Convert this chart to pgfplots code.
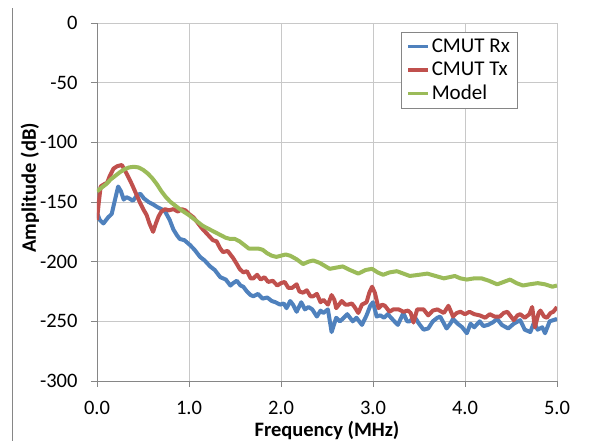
\documentclass[border=0pt]{standalone}
\usepackage{fontspec}
\setmainfont{Carlito}
\usepackage{pgfplots}
\pgfplotsset{compat=1.18}
\definecolor{rxblue}{HTML}{4F81BD}
\definecolor{txred}{HTML}{C0504D}
\definecolor{modelgreen}{HTML}{9BBB59}
\definecolor{gridgray}{HTML}{C8C8C8}
\definecolor{axisgray}{HTML}{868686}

\begin{document}
\begin{tikzpicture}[x=1pt,y=1pt]
\useasboundingbox (-97,-62) rectangle (514,381);
\draw[axisgray, line width=0.8pt] (-85,-60) -- (-85,373);
\begin{axis}[
  at={(0,0)}, anchor=south west,
  width=460pt, height=358pt, scale only axis,
  xmin=0, xmax=5, ymin=-300, ymax=0,
  xtick={0,1,...,5}, ytick={-300,-250,...,0},
  axis x line=bottom, axis y line=left,
  axis line style={axisgray, line width=0.8pt, -},
  grid=major, major grid style={gridgray, line width=0.8pt},
  tick align=outside, major tick length=6pt,
  tick style={axisgray, line width=0.8pt},
  font=\fontsize{20.5}{24}\selectfont,
  /pgf/number format/assume math mode=true,
  xticklabel style={yshift=-11pt, /pgf/number format/.cd, fixed, fixed zerofill, precision=1},
  yticklabel style={xshift=-10pt, /pgf/number format/fixed},
  xlabel={\textbf{Frequency (MHz)}},
  ylabel={\textbf{Amplitude (dB)}},
  xlabel style={at={(axis description cs:0.5,-0.137)}, anchor=center},
  ylabel style={at={(axis description cs:-0.146,0.54)}, anchor=center, rotate=0},
  legend style={at={(axis description cs:0.661,0.975)}, anchor=north west,
    draw=axisgray, fill=white, font=\fontsize{21}{25}\selectfont,
    inner xsep=5pt, inner ysep=5pt, row sep=4pt},
  legend cell align=left,
  legend image code/.code={\draw[#1, line width=3.5pt] (0pt,0pt) -- (20pt,0pt);},
  every axis plot/.append style={line width=4pt, line join=round, mark=none},
]
\addplot[rxblue] coordinates {
(0.00,-159) (0.03,-165) (0.07,-168) (0.12,-163) (0.16,-160) (0.19,-150)
(0.23,-137) (0.26,-141) (0.29,-148) (0.32,-146) (0.35,-147) (0.39,-149)
(0.43,-145) (0.47,-143) (0.51,-147) (0.56,-150) (0.61,-152) (0.65,-154)
(0.70,-156) (0.74,-158) (0.79,-165) (0.83,-173) (0.87,-178) (0.90,-181)
(0.95,-182) (1.01,-186) (1.06,-190) (1.12,-196) (1.17,-199) (1.23,-204)
(1.28,-207) (1.34,-213) (1.40,-215) (1.45,-220) (1.48,-218) (1.52,-216)
(1.56,-220) (1.59,-221) (1.63,-225) (1.67,-228) (1.70,-229) (1.75,-227)
(1.80,-231) (1.85,-230) (1.90,-233) (1.94,-234) (1.99,-236) (2.03,-235)
(2.06,-239) (2.10,-233) (2.13,-236) (2.17,-242) (2.22,-234) (2.26,-240)
(2.30,-238) (2.34,-240) (2.39,-246) (2.43,-241) (2.46,-243) (2.51,-240)
(2.55,-259) (2.60,-247) (2.64,-250) (2.67,-248) (2.72,-244) (2.78,-250)
(2.82,-247) (2.88,-253) (2.93,-245) (2.97,-237) (3.00,-234) (3.04,-246)
(3.08,-245) (3.12,-247) (3.16,-244) (3.22,-249) (3.27,-253) (3.33,-243)
(3.37,-250) (3.40,-250) (3.45,-246) (3.50,-252) (3.55,-257) (3.60,-256)
(3.65,-250) (3.70,-247) (3.73,-246) (3.80,-256) (3.84,-252) (3.87,-248)
(3.92,-252) (3.97,-255) (4.02,-260) (4.06,-252) (4.10,-255) (4.16,-250)
(4.20,-254) (4.25,-253) (4.30,-251) (4.35,-248) (4.40,-253) (4.47,-256)
(4.53,-252) (4.60,-249) (4.65,-257) (4.71,-259) (4.75,-251) (4.79,-257)
(4.84,-255) (4.87,-260) (4.92,-250) (4.96,-249) (5.00,-248)
};
\addlegendentry{CMUT Rx}
\addplot[txred] coordinates {
(0.00,-165) (0.02,-150) (0.04,-137) (0.08,-135) (0.11,-134) (0.14,-128)
(0.18,-122) (0.22,-120) (0.27,-119) (0.30,-123) (0.32,-126) (0.36,-132)
(0.39,-137) (0.43,-144) (0.47,-151) (0.51,-157) (0.54,-161) (0.57,-168)
(0.61,-175) (0.64,-168) (0.67,-162) (0.70,-158) (0.74,-156) (0.78,-157)
(0.83,-156) (0.88,-158) (0.92,-156) (0.96,-157) (1.00,-160) (1.05,-163)
(1.09,-167) (1.14,-172) (1.20,-177) (1.26,-182) (1.30,-183) (1.34,-189)
(1.37,-192) (1.42,-191) (1.48,-197) (1.52,-202) (1.55,-206) (1.59,-209)
(1.63,-208) (1.67,-214) (1.70,-214) (1.74,-211) (1.78,-215) (1.82,-213)
(1.86,-217) (1.91,-216) (1.96,-220) (2.00,-218) (2.04,-217) (2.08,-222)
(2.12,-222) (2.17,-219) (2.20,-225) (2.24,-226) (2.28,-224) (2.32,-229)
(2.35,-229) (2.39,-227) (2.43,-234) (2.46,-232) (2.51,-236) (2.55,-228)
(2.58,-232) (2.60,-239) (2.66,-233) (2.70,-236) (2.73,-236) (2.77,-235)
(2.80,-238) (2.84,-243) (2.88,-236) (2.93,-234) (2.96,-226) (2.99,-221)
(3.02,-226) (3.06,-239) (3.10,-236) (3.13,-237) (3.18,-242) (3.22,-240)
(3.28,-240) (3.33,-242) (3.38,-241) (3.41,-243) (3.44,-251) (3.48,-240)
(3.55,-240) (3.60,-245) (3.65,-241) (3.70,-240) (3.77,-243) (3.82,-237)
(3.87,-246) (3.91,-243) (3.95,-242) (4.00,-244) (4.05,-242) (4.10,-244)
(4.16,-245) (4.22,-247) (4.27,-244) (4.32,-246) (4.38,-246) (4.42,-243)
(4.46,-242) (4.53,-249) (4.57,-245) (4.60,-244) (4.65,-247) (4.70,-244)
(4.73,-238) (4.76,-255) (4.80,-243) (4.82,-241) (4.86,-246) (4.89,-247)
(4.93,-243) (4.96,-242) (5.00,-238)
};
\addlegendentry{CMUT Tx}
\addplot[modelgreen] coordinates {
(0.00,-141) (0.05,-138) (0.10,-135) (0.15,-131) (0.20,-128) (0.25,-125)
(0.30,-122.5) (0.35,-121) (0.40,-120.5) (0.45,-121) (0.50,-123) (0.55,-126)
(0.60,-130) (0.65,-135) (0.70,-141) (0.75,-146) (0.80,-150) (0.85,-153)
(0.90,-156) (0.95,-158.5) (1.00,-161) (1.05,-164) (1.10,-167) (1.15,-170)
(1.20,-172) (1.25,-174) (1.30,-176) (1.35,-178) (1.40,-180) (1.45,-181)
(1.50,-181) (1.55,-183) (1.60,-186) (1.65,-189) (1.70,-189) (1.75,-189)
(1.80,-190) (1.85,-193) (1.90,-195) (1.95,-196) (2.00,-195) (2.05,-194)
(2.10,-195) (2.17,-198) (2.24,-202) (2.30,-200) (2.35,-199) (2.42,-201)
(2.53,-206) (2.60,-205) (2.67,-204) (2.75,-207) (2.84,-210) (2.92,-207)
(2.99,-206) (3.05,-209) (3.11,-211) (3.18,-209) (3.26,-208) (3.33,-210)
(3.40,-212) (3.50,-211) (3.59,-210) (3.68,-212) (3.77,-214) (3.83,-213)
(3.89,-212) (3.95,-214) (4.02,-215) (4.10,-214) (4.18,-214) (4.26,-216)
(4.35,-219) (4.42,-217) (4.49,-215) (4.56,-218) (4.63,-220) (4.70,-219)
(4.79,-218) (4.87,-219) (4.95,-221) (5.00,-220)
};
\addlegendentry{Model}
\end{axis}
\end{tikzpicture}
\end{document}
